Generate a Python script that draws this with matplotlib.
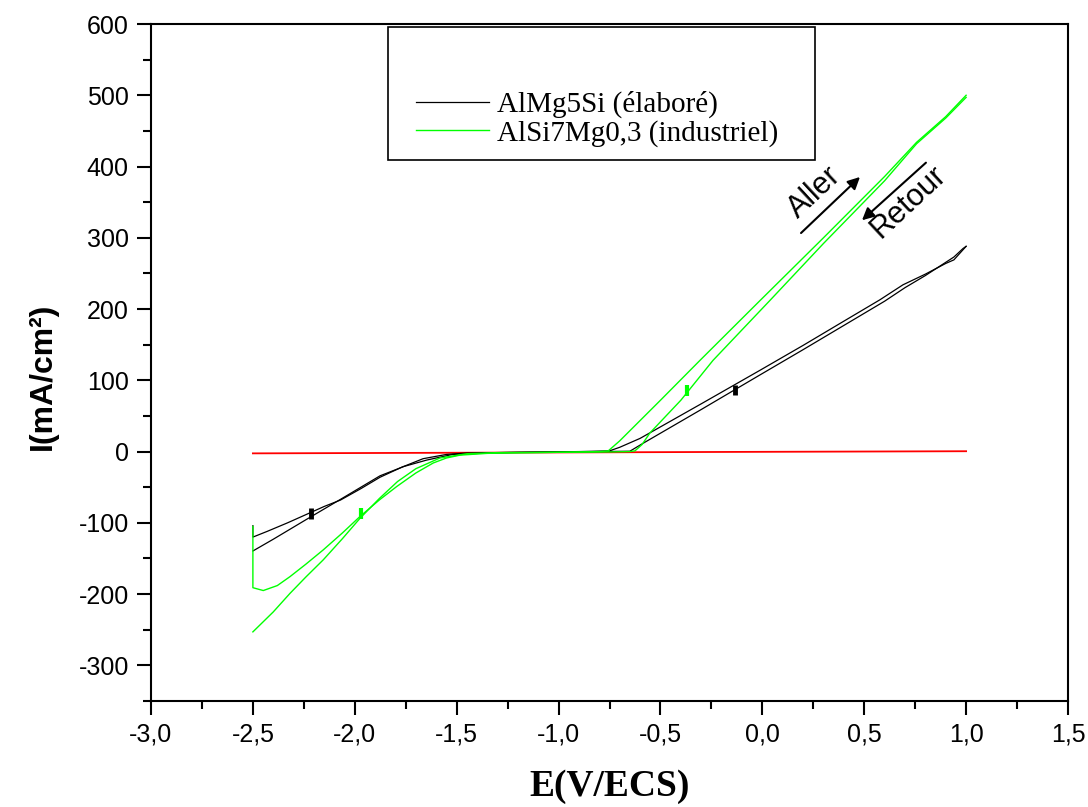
import numpy as np
import matplotlib.pyplot as plt
from matplotlib.patches import Rectangle
from matplotlib.ticker import MultipleLocator, FuncFormatter

plt.rcParams['axes.unicode_minus'] = False
plt.rcParams['mathtext.default'] = 'regular'

# AlMg5Si (élaboré) - two branches of the cyclic scan
black_up_x = [-2.5, -2.5, -2.43, -2.33, -2.236, -2.15, -2.07, -1.97, -1.876, -1.77, -1.665,
              -1.55, -1.45, -1.2, -0.9, -0.75, -0.70, -0.60, -0.3, -0.012,
              0.2, 0.4, 0.577, 0.69, 0.8, 0.9, 0.94, 1.0]
black_up_y = [-104, -120, -112, -100, -88, -77, -68, -52, -36, -22, -10,
              -4, -2, -1, 0, 1, 6, 18.5, 67, 114,
              149, 183, 213, 234, 249, 264, 269, 288]
black_dn_x = [-2.5, -2.4, -2.236, -2.07, -1.97, -1.876, -1.76, -1.648, -1.52,
              -1.3, -1.0, -0.8, -0.65, -0.586, -0.3, -0.012, 0.2, 0.4,
              0.6, 0.7, 0.8, 0.94, 0.985, 1.0]
black_dn_y = [-139.5, -123, -95, -67, -50, -34, -21, -12, -4,
              -1.5, -0.5, 0, 0.5, 11.5, 59, 107.5, 143, 177,
              211, 230, 247, 273, 285, 288]

# AlSi7Mg0,3 (industriel)
green_up_x = [-2.5, -2.5, -2.449, -2.38, -2.318, -2.24, -2.155, -2.06, -1.974, -1.88, -1.794,
              -1.70, -1.615, -1.55, -1.484, -1.35, -1.255, -1.0, -0.8, -0.756, -0.7,
              -0.5, -0.306, -0.011, 0.3, 0.6, 0.757, 0.9, 1.0]
green_up_y = [-105, -191, -195, -188, -175.5, -158, -138, -114, -91, -68, -49,
              -30, -16, -9, -5, -2.5, -2, -1, 0, 1, 15,
              72, 128, 212, 300, 386, 434, 470, 500]
green_dn_x = [-2.5, -2.4, -2.318, -2.24, -2.155, -2.06, -1.974, -1.88, -1.79, -1.70, -1.582,
              -1.45, -1.3, -1.0, -0.75, -0.65, -0.625, -0.59, -0.552, -0.4, -0.242,
              0.037, 0.3, 0.6, 0.757, 0.9, 1.0]
green_dn_y = [-253, -225, -199, -176, -152, -122, -93.5, -66, -42, -24, -9,
              -3, -1.5, -1, -0.5, 0, 1, 10, 26, 72, 128,
              212, 292, 380, 432, 468, 497]

# reference (red) line
red_x = [-2.5, 1.0]
red_y = [-2.5, 0.5]

# small vertical marks on the curves
mark_black_x = [-2.215, -0.134]
mark_black_lo = [-94, 80]
mark_black_hi = [-79, 94]
mark_green_x = [-1.97, -0.372]
mark_green_lo = [-94, 78]
mark_green_hi = [-79, 93]

fig = plt.figure(figsize=(10.88, 8.07), dpi=100)
ax = fig.add_axes([151 / 1088, 1 - 701 / 807, 917 / 1088, 677 / 807])

black = '#000000'
green = '#00FF00'

ax.plot(red_x, red_y, color='red', lw=1.3, zorder=2)
l1, = ax.plot(black_up_x, black_up_y, color=black, lw=0.9, zorder=3)
ax.plot(black_dn_x, black_dn_y, color=black, lw=0.9, zorder=3)
l2, = ax.plot(green_up_x, green_up_y, color=green, lw=1.0, zorder=3)
ax.plot(green_dn_x, green_dn_y, color=green, lw=1.0, zorder=3)

ax.vlines(mark_black_x, mark_black_lo, mark_black_hi, color=black, lw=3.5, zorder=4)
ax.vlines(mark_green_x, mark_green_lo, mark_green_hi, color=green, lw=3, zorder=4)

ax.set_xlim(-3.0, 1.5)
ax.set_ylim(-350, 600)
ax.xaxis.set_major_locator(MultipleLocator(0.5))
ax.xaxis.set_minor_locator(MultipleLocator(0.25))
ax.yaxis.set_major_locator(MultipleLocator(100))
ax.yaxis.set_minor_locator(MultipleLocator(50))
ax.xaxis.set_major_formatter(FuncFormatter(lambda v, p: f"{v:.1f}".replace('.', ',')))
ax.yaxis.set_major_formatter(FuncFormatter(lambda v, p: f"{v:.0f}"))

ax.tick_params(which='both', direction='out', top=False, right=False, width=1.5,
               labelsize=18)
ax.tick_params(which='major', length=10)
ax.tick_params(which='minor', length=6)
ax.tick_params(axis='x', pad=5.5)
ax.tick_params(axis='y', pad=6)
for lab in ax.get_xticklabels() + ax.get_yticklabels():
    lab.set_family('Liberation Sans')
for sp in ax.spines.values():
    sp.set_linewidth(1.5)

ax.set_xlabel('E(V/ECS)', fontsize=27, fontweight='bold', family='Liberation Serif')
ax.xaxis.set_label_coords(0.5, -0.10)
ax.set_ylabel('I(mA/cm²)', fontsize=23, fontweight='bold', family='Liberation Sans')
ax.yaxis.set_label_coords(-0.102, 0.48)

# legend with its own tall frame
ax.add_patch(Rectangle((0.258, 0.799), 0.466, 0.197, transform=ax.transAxes,
                       fill=False, edgecolor='black', lw=1.2, zorder=5))
ax.legend([l1, l2], ['AlMg5Si (élaboré)', 'AlSi7Mg0,3 (industriel)'],
          loc='center left', bbox_to_anchor=(0.289, 0.86), frameon=False,
          borderpad=0, borderaxespad=0, handlelength=2.5, handletextpad=0.27,
          labelspacing=0.05, prop={'family': 'Liberation Serif', 'size': 21})

# Aller / Retour arrows
ax.annotate('', xy=(0.489, 388), xytext=(0.180, 304),
            arrowprops=dict(arrowstyle='-|>', color='black', lw=1.5, mutation_scale=18))
ax.annotate('', xy=(0.479, 322), xytext=(0.813, 408),
            arrowprops=dict(arrowstyle='-|>', color='black', lw=1.5, mutation_scale=18))
ax.text(0.258, 363, 'Aller', rotation=43, ha='center', va='center', fontsize=22,
        family='Liberation Sans', rotation_mode='anchor')
ax.text(0.715, 350, 'Retour', rotation=43, ha='center', va='center', fontsize=22,
        family='Liberation Sans', rotation_mode='anchor')

fig.savefig('out.png', dpi=100)
